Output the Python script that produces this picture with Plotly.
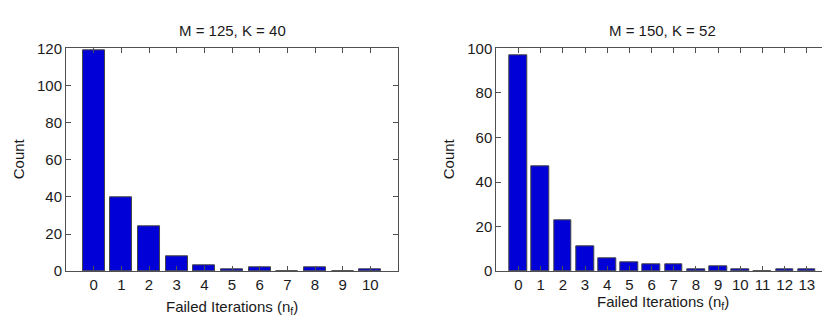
import plotly.graph_objects as go

# failed-iteration histograms for the two settings
nf_left = list(range(0, 11))
count_left = [119, 40, 24, 8, 3, 1, 2, 0, 2, 0, 1]

nf_right = list(range(0, 14))
count_right = [97, 47, 23, 11, 6, 4, 3, 3, 1, 2, 1, 0, 1, 1]

title_left = "M = 125, K = 40"
title_right = "M = 150, K = 52"
xlabel = "Failed Iterations (n<sub>f</sub>)"
ylabel = "Count"

bar_color = "rgb(0,0,215)"
edge_color = "rgb(70,70,70)"
font = dict(family="Liberation Sans, Arial, sans-serif", size=15, color="#1a1a1a")

fig = go.Figure()
fig.add_trace(go.Bar(x=nf_left, y=count_left, width=0.8, marker=dict(color=bar_color, line=dict(color=edge_color, width=1)),
                     xaxis="x", yaxis="y", showlegend=False))
fig.add_trace(go.Bar(x=nf_right, y=count_right, width=0.8, marker=dict(color=bar_color, line=dict(color=edge_color, width=1)),
                     xaxis="x2", yaxis="y2", showlegend=False))

ax_common = dict(showgrid=False, zeroline=False, showline=True, linecolor="rgb(80,80,80)", linewidth=1,
                 mirror="ticks", ticks="inside", ticklen=5, tickcolor="rgb(80,80,80)", tickfont=font)

fig.update_layout(
    width=830, height=331,
    margin=dict(l=0, r=0, t=0, b=0),
    paper_bgcolor="white", plot_bgcolor="white",
    font=font,
    bargap=0,
    xaxis=dict(domain=[0.0699, 0.4699], range=[-1, 11], tickvals=nf_left, anchor="y", **ax_common),
    yaxis=dict(domain=[0.1903, 0.9003], range=[0, 120], tickvals=[0, 20, 40, 60, 80, 100, 120], anchor="x", **ax_common),
    xaxis2=dict(domain=[0.5883, 0.9892], range=[-1, 14], tickvals=nf_right, anchor="y2", **ax_common),
    yaxis2=dict(domain=[0.1903, 0.9003], range=[0, 100], tickvals=[0, 20, 40, 60, 80, 100], anchor="x2", **ax_common),
)

ann = [
    dict(text=title_left, x=0.2699, y=1 - 14 / 331),
    dict(text=title_right, x=0.7888, y=1 - 14 / 331),
    dict(text=xlabel, x=0.2699, y=1 - 306 / 331),
    dict(text=xlabel, x=0.7888, y=1 - 301 / 331),
    dict(text=ylabel, x=10 / 830, y=1 - 150 / 331, textangle=-90),
    dict(text=ylabel, x=440 / 830, y=1 - 150 / 331, textangle=-90),
]
for a in ann:
    fig.add_annotation(xref="paper", yref="paper", showarrow=False, xanchor="center", yanchor="middle", font=font, **a)

fig.write_html("out.html")
